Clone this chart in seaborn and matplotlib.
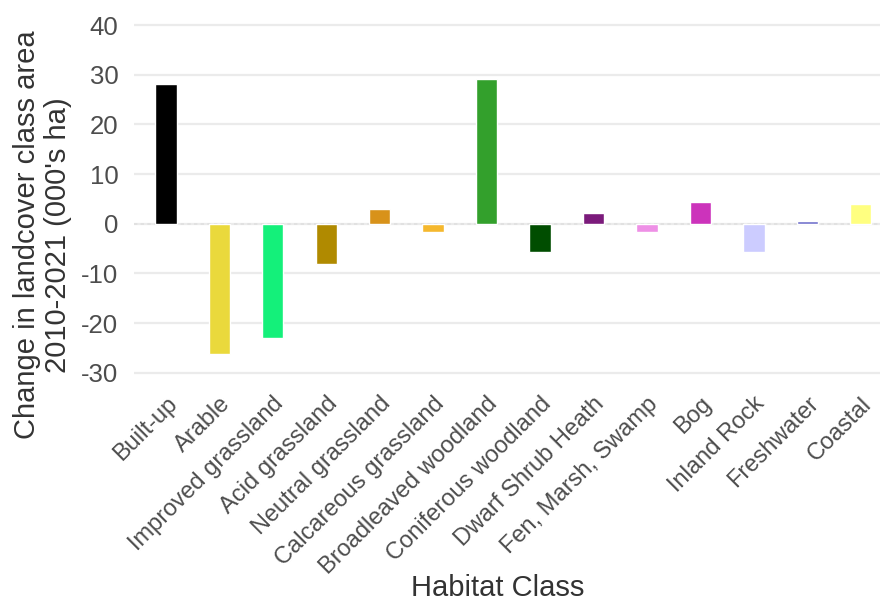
import matplotlib
matplotlib.use("Agg")
import matplotlib.pyplot as plt
import seaborn as sns
import pandas as pd

categories = ["Built-up", "Arable", "Improved grassland", "Acid grassland",
              "Neutral grassland", "Calcareous grassland", "Broadleaved woodland",
              "Coniferous woodland", "Dwarf Shrub Heath", "Fen, Marsh, Swamp",
              "Bog", "Inland Rock", "Freshwater", "Coastal"]
values = [28.2, -26.2, -23.1, -8.2, 3.0, -1.6, 29.2, -5.7, 2.2, -1.6, 4.4, -5.7, 0.6, 4.0]
colors = ["#000000", "#EAD93C", "#14F07A", "#B08A00", "#D8921A", "#F5B82E",
          "#33A02C", "#004D00", "#7B1B7B", "#EE90E6", "#CC33BB", "#CCCCFF",
          "#7070CC", "#FFFF80"]
yticks = [-30, -20, -10, 0, 10, 20, 30, 40]

df = pd.DataFrame({"Habitat": categories, "Change": values})
palette = dict(zip(categories, colors))

sns.set_style("white")
plt.rcParams["font.family"] = ["Liberation Sans", "DejaVu Sans"]

fig = plt.figure(figsize=(8.8, 6.01), dpi=100)
ax = fig.add_axes([0.152, 0.351, 0.848, 0.636])

for t in yticks:
    ax.axhline(t, color="#EBEBEB", lw=1.6, zorder=0)
ax.axhline(0, color="#E0E0E0", lw=1.2, ls=(0, (2, 2)), zorder=0.5)

sns.barplot(data=df, x="Habitat", y="Change", hue="Habitat", palette=palette,
            order=categories, hue_order=categories, dodge=False, legend=False,
            width=0.4, saturation=1, ax=ax, zorder=2)

ax.set_xlim(-0.6, 13.36)
ax.set_ylim(-33.5, 43.5)
ax.set_yticks(yticks)
ax.set_yticklabels([str(t) for t in yticks], fontsize=18.5, color="#4D4D4D")
ax.set_xticks(range(len(categories)))
ax.set_xticklabels(categories, rotation=45, ha="right", rotation_mode="anchor",
                   fontsize=17, color="#4D4D4D")
ax.tick_params(axis="both", length=0)
ax.tick_params(axis="x", pad=2)
ax.tick_params(axis="y", pad=11)
for s in ax.spines.values():
    s.set_visible(False)

ax.set_xlabel("")
ax.set_ylabel("")
fig.text(0.566, 1 - 588 / 601, "Habitat Class", fontsize=21, color="#333333",
         ha="center", va="center")
fig.text(0.048, 1 - 235 / 601, "Change in landcover class area\n2010-2021 (000's ha)",
         fontsize=21, color="#333333", rotation=90, ha="center", va="center",
         linespacing=1.15, multialignment="center")

fig.savefig("out.png", dpi=100)
